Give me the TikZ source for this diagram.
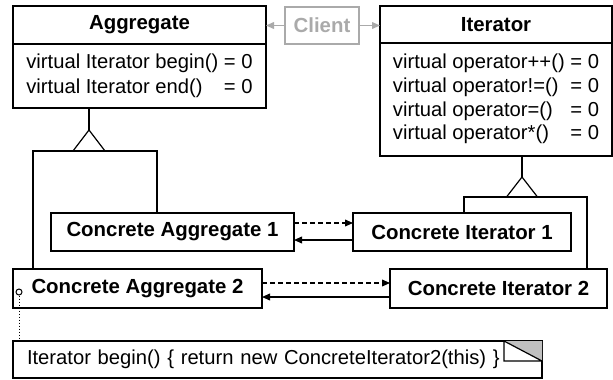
\documentclass[tikz,border=0pt]{standalone}
\usepackage{fontspec}
\setmainfont{Liberation Sans}
\usetikzlibrary{positioning,arrows.meta}
\definecolor{ClientGray}{RGB}{170,170,170}
\definecolor{NoteGray}{RGB}{192,192,192}

\begin{document}
\begin{tikzpicture}[
    x=0.5pt, y=-0.5pt,
    font=\fontsize{10.1}{11.8}\selectfont,
    line width=0.6pt,
    >={Triangle[length=4pt,width=3.4pt]},
    box/.style={
        draw,
        inner sep=0pt,
        outer sep=0pt,
        align=center
    },
    title/.style={
        box,
        font=\fontsize{10.2}{11.8}\selectfont\bfseries
    },
    note/.style={
        draw,
        outer sep=0pt,
        inner xsep=7pt,
        inner ysep=0pt,
        align=left
    },
    uses/.style={
        ->,
        dash pattern=on 2.5pt off 1.5pt
    },
    client arrow/.style={
        ->,
        draw=ClientGray
    }
]
\useasboundingbox (0,0) rectangle (613,379);

% abstract classes
\node[title, minimum width=126.5pt, minimum height=19pt] (aggtitle) at (139.5,25) {Aggregate};
\node[box, minimum width=126.5pt, minimum height=32pt, below=0pt of aggtitle] (aggbody)
    {\raisebox{-1.8pt}{\fontsize{10.1}{12.5}\selectfont
     \begin{tabular}{@{}l@{ }l@{}}
     virtual Iterator begin() & = 0\\
     virtual Iterator end() & = 0
     \end{tabular}}};

\node[title, minimum width=116pt, minimum height=18.5pt] (ittitle) at (496,24.5) {Iterator};
\node[box, minimum width=116pt, minimum height=56.5pt, below=0pt of ittitle] (itbody)
    {\raisebox{-3pt}{\begin{tabular}{@{}l@{ }l@{}}
     virtual operator++() & = 0\\
     virtual operator!=() & = 0\\
     virtual operator=() & = 0\\
     virtual operator*() & = 0
     \end{tabular}}};

\node[title, draw=ClientGray, text=ClientGray, minimum width=37pt, minimum height=18.5pt] (client) at (322,25.5) {Client};

% concrete classes
\node[title, minimum width=121.5pt, minimum height=19pt] (conagg1) at (172.5,232) {Concrete Aggregate 1};
\node[title, minimum width=124.5pt, minimum height=19.5pt] (conagg2) at (137.5,288.5) {Concrete Aggregate 2};
\node[title, minimum width=109pt, minimum height=19pt] (conit1) at (462,232) {Concrete Iterator 1};
\node[title, minimum width=108.5pt, minimum height=19.5pt] (conit2) at (498.5,288.5) {Concrete Iterator 2};

% note
\node[note, anchor=west, text width=250.5pt, minimum height=18.5pt] (note) at (13,359.5)
    {Iterator begin() \{ return new ConcreteIterator2(this) \}};
\coordinate (fold) at ([xshift=-19pt]note.north east);
\coordinate (foldlow) at ([yshift=-10pt]note.north east);
\fill[NoteGray] (fold) -- (note.north east) -- (foldlow) -- cycle;
\draw (foldlow) -- (fold) |- (foldlow);

\node[circle, draw, line width=0.5pt, inner sep=0pt, minimum size=3pt] (link) at (19,292) {};
\draw[line width=0.5pt, dash pattern=on 0.5pt off 1pt] (link.south) -- (link.south |- note.north);

% client
\draw[client arrow] (client.west) -- (client.west -| aggtitle.east);
\draw[client arrow] (client.east) -- (client.east -| ittitle.west);

% inheritance
\coordinate (aggtip) at (89,130);
\coordinate (aggbase) at (89,151);
\draw (aggtip |- aggbody.south) -- (aggtip);
\draw (aggtip) -- ++(-16,21) -- ++(32,0) -- cycle;
\draw ([xshift=10pt]conagg2.north west) |- (aggbase) -| ([xshift=53pt]conagg1.north west);

\coordinate (ittip) at (522,177);
\coordinate (itbase) at (522,197);
\draw (ittip |- itbody.south) -- (ittip);
\draw (ittip) -- ++(-15.5,20) -- ++(31,0) -- cycle;
\draw ([xshift=55.5pt]conit1.north west) |- (itbase) -| ([xshift=-10pt]conit2.north east);

% create / reference
\draw[uses] ([yshift=4.5pt]conagg1.east) -- ([yshift=4.5pt]conagg1.east -| conit1.west);
\draw[->] ([yshift=-4pt]conit1.west) -- ([yshift=-4pt]conit1.west -| conagg1.east);
\draw[uses] ([yshift=2.75pt]conagg2.east) -- ([yshift=2.75pt]conagg2.east -| conit2.west);
\draw[->] ([yshift=-4.25pt]conit2.west) -- ([yshift=-4.25pt]conit2.west -| conagg2.east);

\end{tikzpicture}
\end{document}
